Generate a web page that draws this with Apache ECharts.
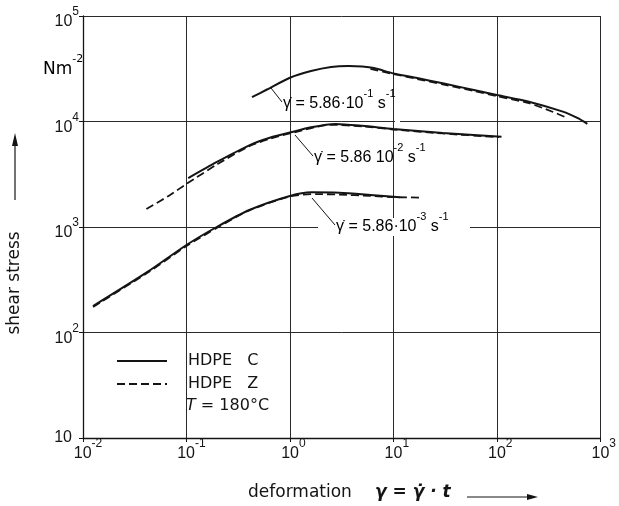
<!DOCTYPE html>
<html><head><meta charset="utf-8">
<script src="https://cdn.jsdelivr.net/npm/echarts@6/dist/echarts.min.js"></script>
<style>html,body{margin:0;padding:0;background:#fff}#c{width:619px;height:506px}</style>
</head><body><div id="c"></div>
<script>
// ---- data ----
const xTicks = [0.01, 0.1, 1, 10, 100, 1000];
const yTicks = [10, 100, 1000, 10000, 100000];
const seriesNames = ['HDPE   C', 'HDPE   Z'];
const rateLabels = ['5.86·10', '5.86 10', '5.86·10'];
const rateExp = ['-1', '-2', '-3'];

// rate 5.86e-1
const aCx = [0.43, 0.6, 1.0, 1.6, 2.5, 3.7, 5.0, 6.5, 10, 17, 30, 60, 100, 200, 435, 600, 750];
const aCy = [17000, 20100, 26000, 30100, 32900, 33600, 33200, 32100, 28600, 25800, 23000, 19900, 17800, 15500, 12400, 10800, 9500];
const aZx = [6, 10, 17, 30, 60, 100, 200, 350, 480];
const aZy = [31500, 28200, 25300, 22500, 19500, 17400, 15000, 12300, 10800];
// rate 5.86e-2
const bCx = [0.104, 0.195, 0.405, 0.65, 1.0, 1.6, 2.75, 5, 10, 30, 111];
const bCy = [2910, 4120, 5950, 7050, 7850, 8800, 9470, 9100, 8500, 7800, 7150];
const bZx = [0.041, 0.07, 0.1, 0.2, 0.4, 0.65, 1.0, 2.5, 5, 10, 30, 105];
const bZy = [1480, 2020, 2560, 3950, 5800, 6900, 7700, 9300, 9000, 8400, 7700, 7100];
// rate 5.86e-3
const cCx = [0.0125, 0.042, 0.1, 0.196, 0.405, 1.0, 1.62, 3, 6, 11.5];
const cCy = [178, 375, 675, 1000, 1450, 1970, 2130, 2110, 2010, 1910];
const cZx = [0.0125, 0.042, 0.1, 0.2, 0.4, 1.0, 1.8, 3, 6, 10, 19];
const cZy = [175, 368, 660, 990, 1430, 1950, 2050, 2030, 1970, 1920, 1900];

const zip = (xs, ys) => xs.map((x, i) => [x, ys[i]]);
const INK = '#141414';
const FONT = 'Liberation Sans';
const TFONT = 'DejaVu Sans';

function mk(name, xs, ys, dashed) {
  return {
    name, type: 'line', data: zip(xs, ys), symbol: 'none', showSymbol: false,
    smooth: 0.25, z: 3,
    lineStyle: { color: INK, width: dashed ? 1.8 : 2, type: dashed ? [8, 4] : 'solid' },
    itemStyle: { color: INK }
  };
}

const exp = v => Math.round(Math.log10(v));
const rich = {
  b: { fontSize: 16, lineHeight: 16, fontFamily: FONT, color: INK, padding: [12, 0, 0, 0] },
  c: { fontSize: 16, lineHeight: 16, fontFamily: FONT, color: INK },
  s: { fontSize: 12, lineHeight: 12, fontFamily: FONT, color: INK, padding: [0, 0, 8, 0] },
  sp1: { width: 7, height: 10 },
  sp2: { width: 10, height: 10 }
};

const chart = echarts.init(document.getElementById('c'), null, { renderer: 'canvas' });

const annRich = {
  b: { fontSize: 16, lineHeight: 16, fontFamily: FONT, color: INK, padding: [12, 0, 0, 0] },
  s: { fontSize: 11, lineHeight: 11, fontFamily: FONT, color: INK, padding: [0, 0, 9, 0] }
};
function annText(i) {
  return '{b|γ̇ = ' + rateLabels[i] + '}{s|' + rateExp[i] + '}{b| s}{s|-1}';
}

const option = {
  backgroundColor: '#fff',
  animation: false,
  grid: { left: 83, right: 13, top: 16, bottom: 68, containLabel: false },
  xAxis: {
    type: 'log', logBase: 10, min: 0.01, max: 1000,
    axisLine: { show: true, lineStyle: { color: INK, width: 1.3 } },
    axisTick: { show: true, length: 4, lineStyle: { color: INK } },
    splitLine: { show: true, lineStyle: { color: '#2a2a2a', width: 1 } },
    minorTick: { show: false }, minorSplitLine: { show: false },
    axisLabel: {
      margin: 2, rich,
      formatter: v => { const e = exp(v); const s = String(e); return '{' + (s.length > 1 ? 'sp2' : 'sp1') + '|}{b|10}{s|' + s + '}'; }
    }
  },
  yAxis: {
    type: 'log', logBase: 10, min: 10, max: 100000,
    axisLine: { show: true, lineStyle: { color: INK, width: 1.3 } },
    axisTick: { show: true, length: 4, lineStyle: { color: INK } },
    splitLine: { show: true, lineStyle: { color: '#2a2a2a', width: 1 } },
    minorTick: { show: false }, minorSplitLine: { show: false },
    axisLabel: {
      margin: 4, rich,
      formatter: v => { const e = exp(v); return e === 1 ? '{c|10}{sp1|}' : '{b|10}{s|' + e + '}'; }
    }
  },
  legend: {
    data: seriesNames, orient: 'vertical', left: 111, top: 348,
    itemWidth: 50, itemHeight: 14, itemGap: 7,
    itemStyle: { opacity: 0 },
    textStyle: { fontFamily: TFONT, fontSize: 16, color: INK, padding: [0, 0, 0, 16] },
    selectedMode: false
  },
  series: [
    mk(seriesNames[0], aCx, aCy, false),
    mk(seriesNames[1], aZx, aZy, true),
    mk(seriesNames[0], bCx, bCy, false),
    mk(seriesNames[1], bZx, bZy, true),
    mk(seriesNames[0], cCx, cCy, false),
    mk(seriesNames[1], cZx, cZy, true)
  ],
  graphic: [
    // gaps in the grid as in the original drawing
    { type: 'rect', z: 1, shape: { x: 395, y: 77, width: 5, height: 160 }, style: { fill: '#fff' } },
    { type: 'rect', z: 1, shape: { x: 318, y: 218, width: 152, height: 18 }, style: { fill: '#fff' } },
    // leader lines
    { type: 'line', z: 5, shape: { x1: 271, y1: 88, x2: 282, y2: 102 }, style: { stroke: INK, lineWidth: 1 } },
    { type: 'line', z: 5, shape: { x1: 295, y1: 135, x2: 313, y2: 156 }, style: { stroke: INK, lineWidth: 1 } },
    { type: 'line', z: 5, shape: { x1: 312, y1: 198, x2: 335, y2: 225 }, style: { stroke: INK, lineWidth: 1 } },
    // rate annotations
    { type: 'text', z: 5, x: 283, y: 98, style: { text: annText(0), rich: annRich, verticalAlign: 'middle', align: 'left' } },
    { type: 'text', z: 5, x: 314, y: 152, style: { text: annText(1), rich: annRich, verticalAlign: 'middle', align: 'left' } },
    { type: 'text', z: 5, x: 336, y: 221, style: { text: annText(2), rich: annRich, verticalAlign: 'middle', align: 'left' } },
    // unit
    { type: 'text', z: 5, x: 43, y: 64, style: { text: '{b|Nm}{s|-2}', rich: { b: { fontSize: 17, lineHeight: 17, fontFamily: TFONT, color: INK, padding: [12, 0, 0, 0] }, s: { fontSize: 11, lineHeight: 11, fontFamily: TFONT, color: INK, padding: [0, 0, 10, 0] } }, verticalAlign: 'middle', align: 'left' } },
    // T = 180 °C
    { type: 'text', z: 5, x: 186, y: 406, style: { text: '{i|T} = 180°C', fontFamily: TFONT, fontSize: 16, fill: INK, rich: { i: { fontFamily: TFONT, fontSize: 16, fontStyle: 'italic', color: INK } }, verticalAlign: 'middle', align: 'left' } },
    // y title + arrow
    { type: 'text', z: 5, x: 15, y: 283, rotation: Math.PI / 2, style: { text: 'shear stress', fontFamily: TFONT, fontSize: 17, fill: INK, align: 'center', verticalAlign: 'middle' } },
    { type: 'line', z: 5, shape: { x1: 15, y1: 200, x2: 15, y2: 142 }, style: { stroke: INK, lineWidth: 1.2 } },
    { type: 'polygon', z: 5, shape: { points: [[12, 146], [18, 146], [15, 133]] }, style: { fill: INK } },
    // x title + arrow
    { type: 'text', z: 5, x: 248, y: 493, style: { text: 'deformation', fontFamily: TFONT, fontSize: 17, fill: INK, align: 'left', verticalAlign: 'middle' } },
    { type: 'text', z: 5, x: 375, y: 493, style: { text: 'γ = γ̇ · t', fontFamily: TFONT, fontSize: 17, fontStyle: 'italic', fontWeight: 'bold', fill: INK, align: 'left', verticalAlign: 'middle' } },
    { type: 'line', z: 5, shape: { x1: 467, y1: 497, x2: 530, y2: 497 }, style: { stroke: INK, lineWidth: 1.2 } },
    { type: 'polygon', z: 5, shape: { points: [[527, 494], [527, 500], [538, 497]] }, style: { fill: INK } }
  ]
};
chart.setOption(option);
</script>
</body></html>
